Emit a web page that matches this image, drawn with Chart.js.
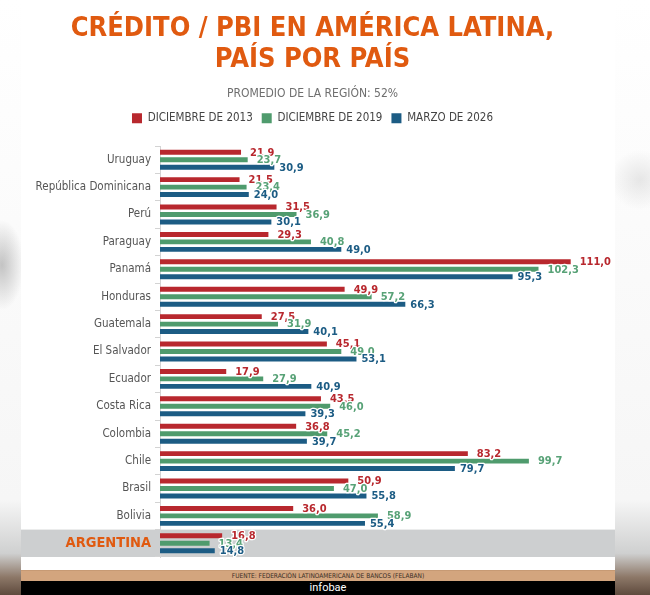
<!DOCTYPE html>
<html>
<head>
<meta charset="utf-8">
<script src="https://cdn.jsdelivr.net/npm/chart.js@4.4.1/dist/chart.umd.min.js"></script>
<style>
  html, body { margin: 0; padding: 0; }
  body {
    width: 650px; height: 595px; overflow: hidden; position: relative;
    background:
      radial-gradient(ellipse 22px 45px at 2px 265px, rgba(150,150,150,0.55), rgba(150,150,150,0) 100%),
      radial-gradient(ellipse 30px 30px at 640px 180px, rgba(190,190,190,0.35), rgba(190,190,190,0) 100%),
      linear-gradient(to bottom, #ffffff 0%, #f6f6f6 84%, #cfd0d0 93%, #8d7868 97%, #5e4a3d 100%);
  }
  #panel { position: absolute; left: 21px; top: 0; width: 594px; height: 570px; background: #fff; }
  #chartbox { position: absolute; left: 0; top: 0; width: 594px; height: 570px; }
  #fuente {
    position: absolute; left: 21px; top: 570px; width: 594px; height: 11px;
    background: #d3a57e; color: #3a2e26; font: 6.5px 'DejaVu Sans Condensed',Roboto,sans-serif;
    line-height: 11px; text-align: center; box-sizing: border-box; padding-left: 20px;
    border-top: 1px solid #c79a74;
  }
  #brand {
    position: absolute; left: 21px; top: 581px; width: 594px; height: 14px;
    background: #000; color: #fff; font: 11px Roboto, sans-serif; line-height: 14px;
    text-align: center; box-sizing: border-box; padding-left: 20px;
  }
</style>
</head>
<body>
<div id="panel"><div id="chartbox"><canvas id="c"></canvas></div></div>
<div id="fuente">FUENTE: FEDERACIÓN LATINOAMERICANA DE BANCOS (FELABAN)</div>
<div id="brand">infobae</div>
<script>
const categories = ['Uruguay','República Dominicana','Perú','Paraguay','Panamá','Honduras','Guatemala','El Salvador','Ecuador','Costa Rica','Colombia','Chile','Brasil','Bolivia','ARGENTINA'];
const dic2013 = [21.9, 21.5, 31.5, 29.3, 111.0, 49.9, 27.5, 45.1, 17.9, 43.5, 36.8, 83.2, 50.9, 36.0, 16.8];
const dic2019 = [23.7, 23.4, 36.9, 40.8, 102.3, 57.2, 31.9, 49.0, 27.9, 46.0, 45.2, 99.7, 47.0, 58.9, 13.4];
const mar2026 = [30.9, 24.0, 30.1, 49.0, 95.3, 66.3, 40.1, 53.1, 40.9, 39.3, 39.7, 79.7, 55.8, 55.4, 14.8];
const seriesNames = ['DICIEMBRE DE 2013', 'DICIEMBRE DE 2019', 'MARZO DE 2026'];
const titleLines = ['CRÉDITO / PBI EN AMÉRICA LATINA,', 'PAÍS POR PAÍS'];
const subtitleText = 'PROMEDIO DE LA REGIÓN: 52%';
const highlight = 'ARGENTINA';

const NARROW = "'DejaVu Sans Condensed',Roboto,sans-serif";
const barColors = ['#b8282e', '#4f9b6d', '#1c5c84'];
const labelColors = ['#b8282e', '#58a277', '#1c5c84'];
const labelOffsets = [9, 9, 5];

const legendGap = {
  id: 'legendGap',
  beforeInit(chart) {
    const lg = chart.legend;
    if (!lg) return;
    const fit = lg.fit;
    lg.fit = function () { fit.call(this); this.height += 12; };
  }
};

const highlightBand = {
  id: 'highlightBand',
  beforeDraw(chart) {
    const y = chart.scales.y;
    const i = categories.indexOf(highlight);
    if (i < 0) return;
    const step = (y.getPixelForValue(1) - y.getPixelForValue(0));
    const cy = y.getPixelForValue(i);
    const ctx = chart.ctx;
    ctx.save();
    ctx.fillStyle = '#cdcfd0';
    ctx.fillRect(0, cy - step / 2, chart.width, step);
    ctx.restore();
  }
};

const valueLabels = {
  id: 'valueLabels',
  afterDatasetsDraw(chart) {
    const ctx = chart.ctx;
    ctx.save();
    ctx.font = 'bold 11px ' + NARROW;
    ctx.textBaseline = 'middle';
    ctx.textAlign = 'left';
    ctx.lineJoin = 'round';
    chart.data.datasets.forEach((ds, di) => {
      const meta = chart.getDatasetMeta(di);
      meta.data.forEach((bar, i) => {
        const txt = ds.data[i].toFixed(1).replace('.', ',');
        const x = bar.x + labelOffsets[di];
        const yy = bar.y + 0.5;
        ctx.strokeStyle = '#ffffff';
        ctx.lineWidth = 2.5;
        ctx.strokeText(txt, x, yy);
        ctx.fillStyle = labelColors[di];
        ctx.fillText(txt, x, yy);
      });
    });
    ctx.restore();
  }
};

new Chart(document.getElementById('c'), {
  type: 'bar',
  data: {
    labels: categories,
    datasets: [
      { label: seriesNames[0], data: dic2013, backgroundColor: barColors[0] },
      { label: seriesNames[1], data: dic2019, backgroundColor: barColors[1] },
      { label: seriesNames[2], data: mar2026, backgroundColor: barColors[2] }
    ]
  },
  options: {
    indexAxis: 'y',
    responsive: true,
    maintainAspectRatio: false,
    animation: false,
    events: [],
    datasets: { bar: { categoryPercentage: 0.82, barPercentage: 0.66, borderWidth: 0 } },
    layout: { padding: { top: 0, right: 11, bottom: 13, left: 0 } },
    plugins: {
      title: {
        display: true, text: titleLines, color: '#e05a10',
        font: { family: NARROW, size: 27, weight: 'bold', lineHeight: 1.15 },
        padding: { top: 13, bottom: 0 }
      },
      subtitle: {
        display: true, text: subtitleText, color: '#6e6e6e',
        font: { family: NARROW, size: 12, weight: 'normal', lineHeight: 1.2 },
        padding: { top: 12, bottom: 2 }
      },
      legend: {
        display: true, position: 'top',
        labels: {
          boxWidth: 10, boxHeight: 10, padding: 9, color: '#444',
          font: { family: NARROW, size: 11.5 }
        }
      },
      tooltip: { enabled: false }
    },
    scales: {
      x: { display: false, min: 0, max: 120 },
      y: {
        afterFit(scale) { scale.width = 139; },
        grid: { drawOnChartArea: false, tickLength: 5, color: '#d3d3d3', offset: true },
        border: { display: true, color: '#d3d3d3' },
        ticks: {
          padding: 4,
          color: (c) => categories[c.index] === highlight ? '#e05a10' : '#555555',
          font: (c) => categories[c.index] === highlight
            ? { family: NARROW, size: 14.5, weight: 'bold' }
            : { family: NARROW, size: 11.5, weight: 'normal' }
        }
      }
    }
  },
  plugins: [legendGap, highlightBand, valueLabels]
});
</script>
</body>
</html>
